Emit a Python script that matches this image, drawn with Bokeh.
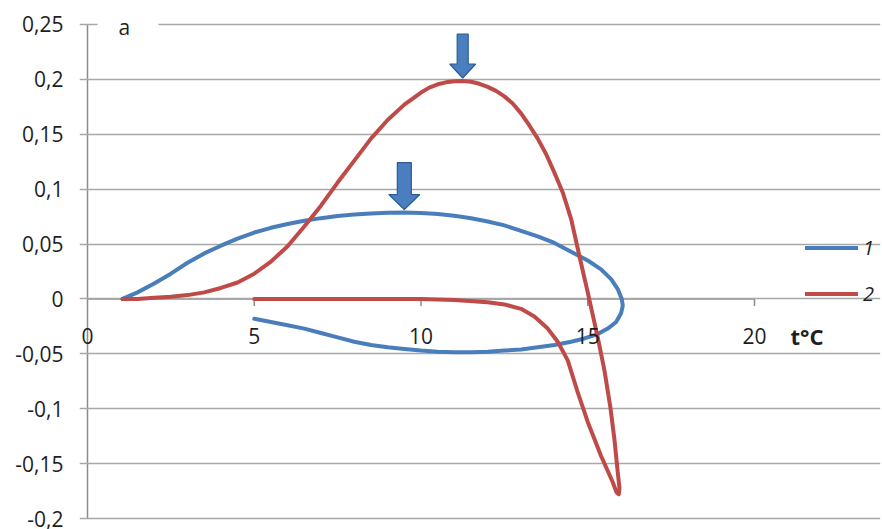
import numpy as np
from bokeh.plotting import figure
from bokeh.models import (FixedTicker, Range1d, Legend, LegendItem, Label,
                          BoxAnnotation)
from bokeh.embed import file_html
from bokeh.resources import INLINE
from bokeh.core.properties import value

# ---------------- data ----------------
blue_x = [1.05, 1.5, 2.0, 2.5, 3.0, 3.5, 4.0, 4.5, 5.0, 5.5, 6.0, 6.5, 7.0, 7.5,
          8.0, 8.5, 9.0, 9.5, 10.0, 10.5, 11.0, 11.5, 12.0, 12.5, 13.0, 13.5,
          14.0, 14.5, 15.0, 15.4, 15.7, 15.9, 16.02, 16.05, 16.0, 15.85, 15.6,
          15.3, 14.9, 14.5, 14.0, 13.5, 13.0, 12.5, 12.0, 11.5, 11.0, 10.5,
          10.0, 9.5, 9.0, 8.5, 8.0, 7.5, 7.0, 6.5, 6.0, 5.5, 5.0]
blue_y = [0.000, 0.006, 0.014, 0.023, 0.033, 0.0415, 0.0485, 0.055, 0.0605,
          0.0648, 0.0683, 0.0712, 0.0736, 0.0755, 0.0769, 0.0779, 0.0785,
          0.0787, 0.0783, 0.0773, 0.0758, 0.0735, 0.0705, 0.067, 0.062, 0.057,
          0.051, 0.043, 0.035, 0.027, 0.018, 0.009, 0.000, -0.006, -0.013,
          -0.021, -0.027, -0.032, -0.036, -0.039, -0.042, -0.044, -0.046,
          -0.047, -0.048, -0.0485, -0.0485, -0.048, -0.047, -0.0455, -0.044,
          -0.042, -0.039, -0.035, -0.031, -0.027, -0.024, -0.021, -0.018]

red_x = [1.05, 1.5, 2.0, 2.5, 3.0, 3.5, 4.0, 4.5, 5.0, 5.5, 6.0, 6.5, 7.0, 7.5,
         8.0, 8.5, 9.0, 9.5, 10.0, 10.25, 10.5, 10.75, 11.0, 11.25, 11.5,
         11.75, 12.0, 12.25, 12.5, 12.75, 13.0, 13.25, 13.5, 13.75, 14.0,
         14.25, 14.5, 14.78, 15.0, 15.32, 15.5, 15.68, 15.8, 15.9, 15.95,
         15.93, 15.86, 15.75, 15.4, 15.0, 14.7, 14.4, 14.1, 13.8, 13.4, 13.0,
         12.5, 12.0, 11.0, 10.0, 8.0, 6.5, 5.0]
red_y = [0.000, 0.000, 0.001, 0.002, 0.0035, 0.006, 0.010, 0.015, 0.023, 0.034,
         0.048, 0.066, 0.085, 0.106, 0.126, 0.146, 0.163, 0.177, 0.188, 0.1925,
         0.1955, 0.1973, 0.1982, 0.1985, 0.1978, 0.196, 0.1932, 0.1895,
         0.1845, 0.178, 0.169, 0.158, 0.146, 0.132, 0.115, 0.097, 0.073,
         0.035, 0.006, -0.038, -0.065, -0.099, -0.128, -0.158, -0.172, -0.178,
         -0.176, -0.167, -0.143, -0.112, -0.085, -0.056, -0.039, -0.027,
         -0.016, -0.009, -0.005, -0.003, -0.001, 0.000, 0.000, 0.000, 0.000]

series_names = ["1", "2"]
x_ticks = [0, 5, 10, 15, 20]
x_tick_labels = ["0", "5", "10", "15", "20"]
y_ticks = [-0.2, -0.15, -0.1, -0.05, 0, 0.05, 0.1, 0.15, 0.2, 0.25]
y_tick_labels = ["-0,2", "-0,15", "-0,1", "-0,05", "0", "0,05", "0,1", "0,15",
                 "0,2", "0,25"]
x_axis_title = "t°C"
panel_label = "a"

# ---------------- style ----------------
BLUE = "#4a7ebb"
RED = "#be4b48"
GRID = "#a8a8a8"
AXIS = "#8c8c8c"
TXT = "#1e1e1e"
FONT = "Open Sans"
FS = "21px"

W, H = 882, 529
BL, BR, BT, BB = 79, 2, 22, 9
FW = W - BL - BR
FH = H - BT - BB
PX_PER_X = 33.35                 # px per x unit
X0 = -8 / PX_PER_X               # room left of the y axis for ticks / "0"
X1 = X0 + FW / PX_PER_X
Y0, Y1 = -0.2018, 0.2518
kx = 1 / PX_PER_X                # data units per px
ky = (Y1 - Y0) / FH

p = figure(width=W, height=H, output_backend="svg", toolbar_location=None,
           title=None, x_range=Range1d(X0, X1), y_range=Range1d(Y0, Y1),
           x_axis_location=None, min_border_left=BL, min_border_right=BR,
           min_border_top=BT, min_border_bottom=BB)
p.outline_line_color = None
p.background_fill_color = "white"
p.border_fill_color = "white"

for g in p.xgrid:
    g.visible = False
# gridlines extend 7px left of the y axis, acting as tick marks
p.ygrid.ticker = FixedTicker(ticks=y_ticks)
p.ygrid.grid_line_color = GRID
p.ygrid.grid_line_width = 1.5
p.ygrid.bounds = (x_ticks[0] - 7 * kx, x_ticks[-1])

# y axis: only its labels (line is drawn at x = 0 below)
ya = p.yaxis[0]
ya.ticker = FixedTicker(ticks=y_ticks)
ya.major_label_overrides = dict(zip(y_ticks, y_tick_labels))
ya.minor_tick_line_color = None
ya.major_tick_line_color = None
ya.major_tick_in = 0
ya.major_tick_out = 0
ya.axis_line_color = None
ya.major_label_standoff = 16
ya.major_label_text_font = FONT
ya.major_label_text_font_size = FS
ya.major_label_text_color = TXT

# y axis line at x = 0
p.segment(x0=[x_ticks[0]], y0=[y_ticks[0]], x1=[x_ticks[0]], y1=[y_ticks[-1]],
          line_color=AXIS, line_width=1.5, level="underlay")
# x axis drawn at y = 0 (line, tick marks, labels)
p.segment(x0=[x_ticks[0]], y0=[0], x1=[x_ticks[-1]], y1=[0],
          line_color=AXIS, line_width=1.5, level="underlay")
p.segment(x0=x_ticks[1:], y0=[0] * 4, x1=x_ticks[1:], y1=[-7 * ky] * 4,
          line_color=AXIS, line_width=1.5, level="underlay")

r1 = p.line(blue_x, blue_y, line_color=BLUE, line_width=4, line_join="round",
            line_cap="round")
r2 = p.line(red_x, red_y, line_color=RED, line_width=4, line_join="round",
            line_cap="round")

p.text(x=x_ticks, y=[0] * len(x_ticks), text=x_tick_labels, text_align="center",
       text_baseline="middle", y_offset=37, text_font=value(FONT),
       text_font_size=FS, text_color=TXT)

# arrows pointing at the maxima
def arrow(xs, ys, L, hl, sw, hw, gap):
    i = int(np.argmax(ys))
    xt, yt = xs[i], ys[i] + gap * ky
    pts = [(0, 0), (-hw / 2, hl), (-sw / 2, hl), (-sw / 2, L), (sw / 2, L),
           (sw / 2, hl), (hw / 2, hl)]
    px = [xt + a * kx for a, b in pts]
    py = [yt + b * ky for a, b in pts]
    p.patch(px, py, fill_color="#4a7ebf", line_color="#2b5c98", line_width=1.2)

arrow(blue_x, blue_y, 47, 15, 14, 31, 3)
arrow(red_x, red_y, 44, 14, 11, 26, 3)

# legend at the right
legend = Legend(items=[LegendItem(label=value(series_names[0]), renderers=[r1]),
                       LegendItem(label=value(series_names[1]), renderers=[r2])],
                location=(726, 213), padding=0, margin=0, spacing=19,
                glyph_width=53, glyph_height=27, label_height=27,
                label_standoff=5, border_line_color=None,
                background_fill_alpha=0, label_text_font=FONT,
                label_text_font_size="20px", label_text_font_style="italic",
                label_text_color=TXT, label_text_baseline="middle")
p.add_layout(legend)

# axis title
p.add_layout(Label(x=x_ticks[-1], y=0, x_offset=36, y_offset=-37,
                   text=x_axis_title, text_font=FONT, text_font_size="22px",
                   text_font_style="bold", text_color=TXT,
                   text_baseline="middle", text_align="left"))

# panel label with white box over top gridline
p.add_layout(BoxAnnotation(left=10 * kx, right=71 * kx, top=y_ticks[-1] + 4 * ky,
                           bottom=y_ticks[-1] - 4 * ky, fill_color="white",
                           fill_alpha=1, line_color=None))
p.add_layout(Label(x=0, y=y_ticks[-1], x_offset=31, y_offset=-3,
                   text=panel_label, text_font=FONT, text_font_size=FS,
                   text_color=TXT, text_baseline="middle", text_align="left"))

open("out.html", "w").write(file_html(p, INLINE))
